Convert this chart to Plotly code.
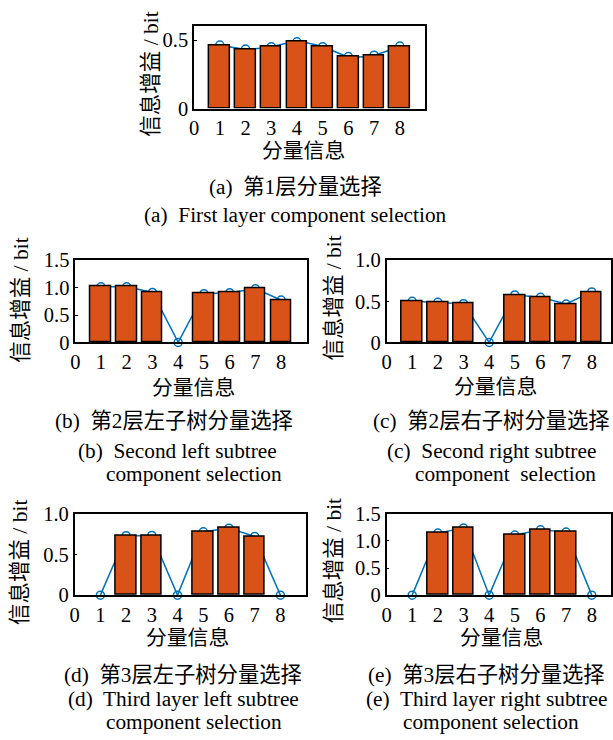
import plotly.graph_objects as go

W, H = 613, 740

# Component indices shared by every panel
components = [1, 2, 3, 4, 5, 6, 7, 8]
x_ticks = [0, 1, 2, 3, 4, 5, 6, 7, 8]

# Information gain (bit) per component for each panel
gain_a = [0.464, 0.435, 0.452, 0.488, 0.452, 0.380, 0.390, 0.457]
gain_b = [1.016, 1.016, 0.913, 0.0, 0.889, 0.907, 0.980, 0.774]
gain_c = [0.500, 0.488, 0.471, 0.0, 0.578, 0.549, 0.467, 0.615]
gain_d = [0.0, 0.731, 0.735, 0.0, 0.780, 0.824, 0.722, 0.0]
gain_e = [0.0, 1.145, 1.237, 0.0, 1.108, 1.206, 1.163, 0.0]

# Y tick labels per panel
yticks_a = ["0", "0.5"]
yticks_b = ["0", "0.5", "1.0", "1.5"]
yticks_c = ["0", "0.5", "1.0"]
yticks_d = ["0", "0.5", "1.0"]
yticks_e = ["0", "0.5", "1.0", "1.5"]

# Captions (Chinese line, then English lines)
cap_a = ["(a)  第1层分量选择", "(a)  First layer component selection"]
cap_b = ["(b)  第2层左子树分量选择", "(b)  Second left subtree", "component selection"]
cap_c = ["(c)  第2层右子树分量选择", "(c)  Second right subtree", "component  selection"]
cap_d = ["(d)  第3层左子树分量选择", "(d)  Third layer left subtree", "component selection"]
cap_e = ["(e)  第3层右子树分量选择", "(e)  Third layer right subtree", "component selection"]

y_title = "信息增益 / bit"
x_title = "分量信息"

BAR = "#D95319"
LINE = "#0072BD"
FONT = "Liberation Serif, Noto Sans CJK SC, serif"

# Layout grid: positions below are given on a 613x740 sheet that the
# figure maps onto with a small inset
INSET = 8.0
SCALE = 0.975


def sheet_to_fig(v):
    return (v - INSET) / SCALE


def px_x(v):
    return min(max(sheet_to_fig(v), 0), W) / W


def px_y(v, pad=0):
    return 1 - min(max(sheet_to_fig(v), pad), H - pad) / H


# Panel geometry on the sheet: box (left, right, top, bottom), y range,
# y-title centre, x-title centre, caption line centres
panels = [
    dict(data=gain_a, yt=yticks_a, yr=0.6, box=(194.5, 422.7, 23.5, 106.0), spline=True,
         ytc=(152, 72), xtc=(302.7, 148), cap=cap_a,
         capc=[(295, 185), (295, 213)]),
    dict(data=gain_b, yt=yticks_b, yr=1.5, box=(77.3, 305.7, 258.5, 341.0), spline=False,
         ytc=(23.5, 298.5), xtc=(194, 386.5), cap=cap_b,
         capc=[(175, 420), (178, 450), (194, 473)]),
    dict(data=gain_c, yt=yticks_c, yr=1.0, box=(384.3, 612.0, 258.5, 341.0), spline=False,
         ytc=(332.5, 297), xtc=(491.7, 385.5), cap=cap_c,
         capc=[(488.3, 420), (487.5, 450), (501.7, 473)]),
    dict(data=gain_d, yt=yticks_d, yr=1.0, box=(76.7, 305.0, 513.3, 595.0), spline=False,
         ytc=(23.5, 562), xtc=(188, 638), cap=cap_d,
         capc=[(183.3, 675), (184, 699), (194, 722)]),
    dict(data=gain_e, yt=yticks_e, yr=1.5, box=(384.3, 612.0, 513.3, 595.0), spline=False,
         ytc=(332.5, 561), xtc=(498, 638), cap=cap_e,
         capc=[(483, 675), (483, 699), (487.5, 722)]),
]

fig = go.Figure()
layout = {}
annotations = []

for i, p in enumerate(panels):
    base = 2 * i + 1      # axes carrying the line
    over = 2 * i + 2      # overlaid axes carrying the bars (drawn on top)
    xb, yb = f"x{base}", f"y{base}"
    xo, yo = f"x{over}", f"y{over}"
    l, r, t, b = p["box"]
    xdom = [px_x(l), px_x(r)]
    ydom = [px_y(b), px_y(t)]
    # keep the unit spacing when the right edge is held inside the figure
    full = sheet_to_fig(r) - sheet_to_fig(l)
    kept = xdom[1] * W - sheet_to_fig(l)
    x_max = 9 * kept / full
    n_y = len(p["yt"])
    yvals = [0.5 * k for k in range(n_y)]
    # components with zero gain get no bar, only the marker on the line
    bar_vals = [v if v > 0 else None for v in p["data"]]

    fig.add_trace(go.Scatter(
        x=components, y=p["data"], xaxis=xb, yaxis=yb,
        mode="lines+markers",
        line=dict(color=LINE, width=1.5, shape="spline" if p["spline"] else "linear",
                  smoothing=0.8),
        marker=dict(symbol="circle-open", size=8, color=LINE, line=dict(width=1.5)),
        cliponaxis=False, showlegend=False, hoverinfo="skip",
    ))
    fig.add_trace(go.Bar(
        x=components, y=bar_vals, xaxis=xo, yaxis=yo, width=0.8,
        marker=dict(color=BAR, line=dict(color="black", width=1.5)),
        showlegend=False, hoverinfo="skip",
    ))

    axis_font = dict(family=FONT, size=20.5, color="black")
    layout[f"xaxis{base}"] = dict(
        domain=xdom, range=[0, x_max], anchor=yb, tickvals=x_ticks,
        ticktext=[str(v) for v in x_ticks], tickfont=axis_font,
        showline=True, mirror=True, linecolor="black", linewidth=1.5,
        showgrid=False, zeroline=False, ticks="", fixedrange=True,
    )
    layout[f"yaxis{base}"] = dict(
        domain=ydom, range=[0, p["yr"]], anchor=xb, tickvals=yvals,
        ticktext=p["yt"], tickfont=axis_font,
        showline=True, mirror=True, linecolor="black", linewidth=1.5,
        showgrid=False, zeroline=False, ticks="inside", ticklen=3,
        tickcolor="black", fixedrange=True,
    )
    layout[f"xaxis{over}"] = dict(
        domain=xdom, range=[0, x_max], anchor=yo, overlaying=xb, visible=False,
        fixedrange=True,
    )
    layout[f"yaxis{over}"] = dict(
        domain=ydom, range=[0, p["yr"]], anchor=xo, overlaying=yb, visible=False,
        fixedrange=True,
    )

    annotations.append(dict(
        text=y_title, x=px_x(p["ytc"][0]), y=px_y(p["ytc"][1]), xref="paper", yref="paper",
        textangle=-90, showarrow=False, xanchor="center", yanchor="middle",
        font=dict(family=FONT, size=21.5, color="black"),
    ))
    annotations.append(dict(
        text=x_title, x=px_x(p["xtc"][0]), y=px_y(p["xtc"][1]), xref="paper", yref="paper",
        showarrow=False, xanchor="center", yanchor="middle",
        font=dict(family=FONT, size=20.8, color="black"),
    ))
    for txt, (cx, cy) in zip(p["cap"], p["capc"]):
        annotations.append(dict(
            text=txt, x=px_x(cx), y=px_y(cy, pad=4), xref="paper", yref="paper",
            showarrow=False, xanchor="center", yanchor="middle",
            font=dict(family=FONT, size=21.3, color="black"),
        ))

fig.update_layout(
    width=W, height=H,
    margin=dict(l=0, r=0, t=0, b=0),
    paper_bgcolor="white", plot_bgcolor="white",
    bargap=0, barmode="overlay",
    annotations=annotations,
    **layout,
)

fig.write_html("out.html", config={"displayModeBar": False})
